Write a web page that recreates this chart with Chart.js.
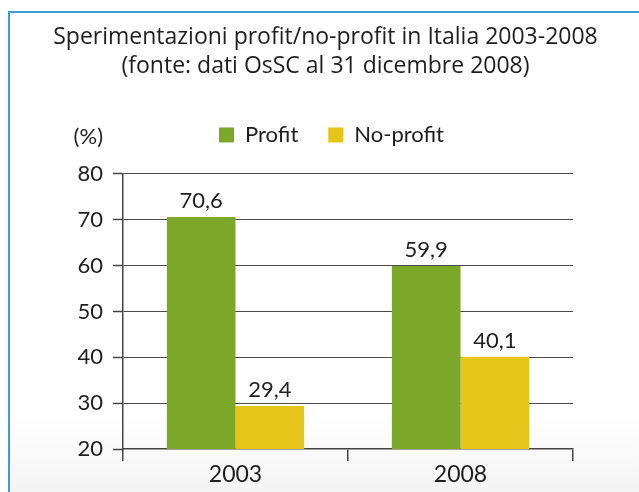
<!DOCTYPE html>
<html>
<head>
<meta charset="utf-8">
<script src="https://cdn.jsdelivr.net/npm/chart.js@4"></script>
<style>
  html, body { margin:0; padding:0; background:#ffffff; }
  #frame { position:absolute; left:8px; top:11px; width:640px; height:490px;
           border-top:2px solid #3f9bd8; border-left:2px solid #3f9bd8;
           background:linear-gradient(to bottom, #ffffff 0px, #ffffff 400px, #f3f3f3 481px); }
  #c { position:absolute; left:0; top:0; }
</style>
</head>
<body>
<div id="frame"></div>
<canvas id="c" width="639" height="492"></canvas>
<script>
const titleLines = ["Sperimentazioni profit/no-profit in Italia 2003-2008", "(fonte: dati OsSC al 31 dicembre 2008)"];
const yAxisTitle = "(%)";
const categories = ["2003", "2008"];
const seriesNames = ["Profit", "No-profit"];
const profitValues = [70.6, 59.9];
const noProfitValues = [29.4, 40.1];
const yTicks = [20, 30, 40, 50, 60, 70, 80];

const FONT = "Lato";
const TITLE_FONT = "Open Sans";
const GREEN = "#7ba828";
const YELLOW = "#e6c51a";
const TEXT = "#1e1e1e";
const AXIS = "#444444";

const valueLabels = {
  id: "valueLabels",
  afterDatasetsDraw(chart) {
    const ctx = chart.ctx;
    ctx.save();
    ctx.font = "22px " + FONT;
    ctx.fillStyle = TEXT;
    ctx.textAlign = "center";
    ctx.textBaseline = "alphabetic";
    chart.data.datasets.forEach((ds, di) => {
      const meta = chart.getDatasetMeta(di);
      meta.data.forEach((bar, i) => {
        const txt = ds.data[i].toFixed(1).replace(".", ",");
        ctx.fillText(txt, bar.x, bar.y - 9);
      });
    });
    ctx.restore();
  }
};

const axisTitle = {
  id: "axisTitle",
  afterDraw(chart) {
    const ctx = chart.ctx;
    const lg = chart.legend;
    let y = 137;
    if (lg) { y = lg.top + lg.options.labels.padding + 11 + 2; }
    ctx.save();
    ctx.font = "22px " + FONT;
    ctx.fillStyle = TEXT;
    ctx.textAlign = "right";
    ctx.textBaseline = "middle";
    ctx.fillText(yAxisTitle, chart.scales.y.right - 20, y);
    ctx.restore();
  }
};

// place title and legend blocks relative to the plot, as in the original layout
const placeBlocks = {
  id: "placeBlocks",
  afterLayout(chart) {
    const t = chart.titleBlock;
    if (t) { t.left += 39; t.right += 39; }
    const lg = chart.legend;
    if (lg) { lg.left += 45; lg.right += 45; lg.top -= 18; lg.bottom -= 18; }
  }
};

new Chart(document.getElementById("c"), {
  type: "bar",
  data: {
    labels: categories,
    datasets: [
      { label: seriesNames[0], data: profitValues, backgroundColor: GREEN, borderWidth: 0,
        categoryPercentage: 0.61, barPercentage: 1.0 },
      { label: seriesNames[1], data: noProfitValues, backgroundColor: YELLOW, borderWidth: 0,
        categoryPercentage: 0.61, barPercentage: 1.0 }
    ]
  },
  options: {
    responsive: false,
    animation: false,
    devicePixelRatio: 1,
    layout: { padding: { left: 0, right: 66, top: 0, bottom: 4 } },
    plugins: {
      tooltip: { enabled: false },
      title: {
        display: true,
        text: titleLines,
        color: TEXT,
        font: { family: TITLE_FONT, size: 23, weight: "normal", lineHeight: 1.26 },
        padding: { top: 23, bottom: 31 }
      },
      legend: {
        display: true,
        position: "top",
        labels: {
          color: TEXT,
          font: { family: FONT, size: 22 },
          boxWidth: 15,
          boxHeight: 15,
          padding: 30
        }
      }
    },
    scales: {
      x: {
        grid: { display: true, offset: true, drawOnChartArea: false, drawTicks: true,
                tickLength: 12, color: AXIS, lineWidth: 1.5 },
        border: { display: true, color: AXIS, width: 1.5 },
        ticks: { color: TEXT, font: { family: FONT, size: 23 }, padding: 0 },
        afterFit(scale) { scale.height = 39; }
      },
      y: {
        min: 20,
        max: 80,
        afterBuildTicks(scale) { scale.ticks = yTicks.map(v => ({ value: v })); },
        grid: {
          drawOnChartArea: true,
          drawTicks: true,
          tickLength: 10,
          color: (c) => (c.tick && c.tick.value === 20) ? "rgba(0,0,0,0)" : "#4a4a4a",
          lineWidth: 1,
          borderDash: [1, 1],
          tickBorderDash: [],
          tickColor: AXIS,
          tickWidth: 1.5
        },
        border: { display: true, color: AXIS, width: 1.5 },
        ticks: { color: TEXT, font: { family: FONT, size: 22 }, padding: 10 },
        afterFit(scale) { scale.width = 123; }
      }
    }
  },
  plugins: [valueLabels, axisTitle, placeBlocks]
});
</script>
</body>
</html>
